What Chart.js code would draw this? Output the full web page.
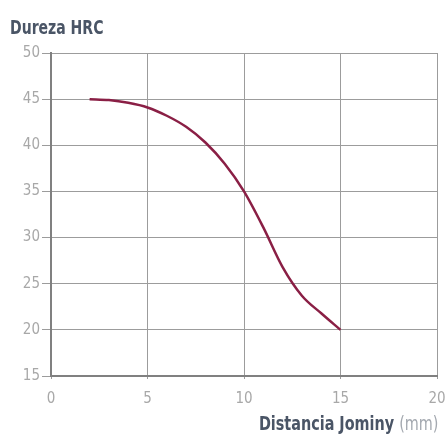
<!DOCTYPE html>
<html>
<head>
<meta charset="utf-8">
<script src="https://cdn.jsdelivr.net/npm/chart.js@4"></script>
<style>
  html, body { margin: 0; padding: 0; background: #fff; }
  #wrap { position: relative; width: 446px; height: 434px; }
  .cond { font-family: 'Liberation Sans Narrow', 'DejaVu Sans Condensed', 'Roboto', sans-serif; }
  #ytitle {
    position: absolute; left: 10px; top: 15px;
    font-size: 20px; font-weight: bold; color: #4a5566;
    transform: scaleX(0.78); transform-origin: left top; white-space: nowrap;
  }
  #xtitle {
    position: absolute; right: 8px; top: 411px;
    font-size: 20px; font-weight: bold; color: #4a5566;
    transform: scaleX(0.8); transform-origin: right top; white-space: nowrap;
  }
  #xtitle span { font-weight: normal; color: #a4a9b0; }
</style>
</head>
<body>
<div id="wrap">
  <canvas id="jominy" width="446" height="434"></canvas>
  <div id="ytitle" class="cond">Dureza HRC</div>
  <div id="xtitle" class="cond">Distancia Jominy <span>(mm)</span></div>
</div>
<script>
// distancia desde el extremo templado (mm) y dureza medida
const distancia = [2, 3, 4, 5, 6, 7, 8, 9, 10, 11, 12, 13, 14, 15];
const dureza = [45, 44.9, 44.6, 44.1, 43.2, 42, 40.3, 38, 35, 31.1, 26.8, 23.7, 21.8, 20];

const xTicks = [0, 5, 10, 15, 20];
const yTicks = [15, 20, 25, 30, 35, 40, 45, 50];

const tickFont = { family: "'Liberation Sans Narrow', 'DejaVu Sans Condensed', sans-serif", size: 15 };

var puntos = distancia.map(function(d, i) { return { x: d, y: dureza[i] }; });

var config = {
    type: 'line',
    data: {
        datasets: [{
            data: puntos,
            borderColor: '#8a1f45',
            borderWidth: 2.5,
            pointRadius: 0,
            cubicInterpolationMode: 'monotone',
            fill: false
        }]
    },
    options: {
        responsive: false,
        animation: false,
        layout: { padding: { left: 0, right: 9, top: 53, bottom: 0 } },
        plugins: { legend: { display: false }, tooltip: { enabled: false } },
        scales: {
            x: {
                type: 'linear',
                min: 0, max: 20,
                afterBuildTicks: function(s) { s.ticks = xTicks.map(function(v) { return { value: v }; }); },
                afterFit: function(s) { s.height = 58; s.paddingRight = 0; },
                grid: { color: '#9c9c9c', lineWidth: 1, tickLength: 3 },
                border: { color: '#808080', width: 2 },
                ticks: { color: '#a8a8a8', font: tickFont, padding: 11, maxRotation: 0 }
            },
            y: {
                min: 15, max: 50,
                afterBuildTicks: function(s) { s.ticks = yTicks.map(function(v) { return { value: v }; }); },
                afterFit: function(s) { s.width = 51; },
                grid: { color: '#9c9c9c', lineWidth: 1, tickLength: 9 },
                border: { color: '#808080', width: 2 },
                ticks: { color: '#a8a8a8', font: tickFont, padding: 2 }
            }
        }
    }
};

var chart = new Chart(document.getElementById('jominy'), config);
</script>
</body>
</html>
